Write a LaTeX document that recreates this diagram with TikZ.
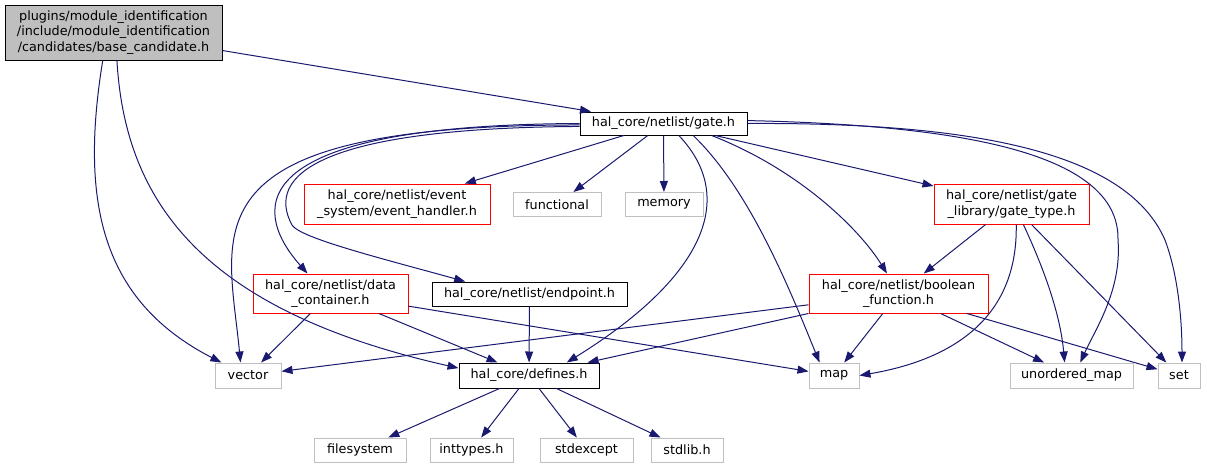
\documentclass[tikz,border=0pt]{standalone}
\usepackage{fontspec}
\setmainfont{DejaVu Sans}
\usetikzlibrary{arrows.meta}

\definecolor{edgeblue}{HTML}{191970}
\definecolor{extgray}{HTML}{BFBFBF}

\tikzset{
    wh/.style 2 args={minimum width=#1*0.75pt, minimum height=#2*0.75pt},
    file/.style={draw, rectangle, inner sep=0pt, align=center, line width=0.75pt,
        font=\fontsize{9.6}{11.5}\selectfont},
    docfile/.style={file, draw=black},
    redfile/.style={file, draw=red},
    sysfile/.style={file, draw=extgray},
    dep/.style={edgeblue, line width=0.75pt, -{Triangle[length=8.25pt,width=6pt]}},
}

\begin{document}
\begin{tikzpicture}[x=0.75pt,y=-0.75pt]
            \useasboundingbox (0,0) rectangle (1207,469);

            % Root file
            \node[docfile, fill=extgray, wh={217}{55}] (root) at (113.5,32.5)
                {plugins/module\_identification\\/include/module\_identification\\/candidates/base\_candidate.h};

            % Second row
            \node[docfile, wh={167}{23}] (gate) at (663.5,123.5) {hal\_core/netlist/gate.h};

            % Third row
            \node[redfile, wh={186}{40}] (event) at (397,204) {hal\_core/netlist/event\\\_system/event\_handler.h};
            \node[sysfile, wh={88}{24}] (functional) at (557,204.5) {functional};
            \node[sysfile, wh={78}{24}] (memory) at (664,204.5) {memory};
            \node[redfile, wh={155}{40}] (gatetype) at (1011.5,204) {hal\_core/netlist/gate\\\_library/gate\_type.h};

            % Fourth row
            \node[redfile, wh={155}{39}] (container) at (330.5,293.5) {hal\_core/netlist/data\\\_container.h};
            \node[docfile, wh={195}{24}] (endpoint) at (529.5,294) {hal\_core/netlist/endpoint.h};
            \node[redfile, wh={179}{39}] (boolean) at (898.5,293.5) {hal\_core/netlist/boolean\\\_function.h};

            % Fifth row
            \node[sysfile, wh={66}{25}] (vector) at (248,375.5) {vector};
            \node[docfile, wh={140}{25}] (defines) at (529,375.5) {hal\_core/defines.h};
            \node[sysfile, wh={50}{25}] (map) at (834,375.5) {map};
            \node[sysfile, wh={123}{25}] (umap) at (1071.5,375.5) {unordered\_map};
            \node[sysfile, wh={42}{25}] (set) at (1179,375.5) {set};

            % Bottom row
            \node[sysfile, wh={92}{24}] (filesystem) at (360,450) {filesystem};
            \node[sysfile, wh={83}{24}] (inttypes) at (471.5,450) {inttypes.h};
            \node[sysfile, wh={93}{24}] (stdexcept) at (586.5,450) {stdexcept};
            \node[sysfile, wh={72}{24}] (stdlib) at (687,450) {stdlib.h};

            % Root includes
            \draw[dep] (root) -- (gate);
            \draw[dep] (root.249) .. controls (80,200) and (100,300) .. (vector.154);
            \draw[dep] (root.277) .. controls (125,200) and (200,310) .. (defines.174);

            % gate.h includes
            \draw[dep] (gate) -- (event);
            \draw[dep] (gate) -- (functional);
            \draw[dep] (gate) -- (memory);
            \draw[dep] (gate) -- (gatetype);
            \draw[dep] (gate.181) .. controls (180,125) and (228,230) .. (vector.120);
            \draw[dep] (gate.180) .. controls (220,125) and (260,220) .. (container.139);
            \draw[dep] (gate.182) .. controls (320,128) and (265,175) .. (292,225)
                .. controls (300,238) and (380,258) .. (endpoint.169);
            \draw[dep] (gate.346) .. controls (800,170) and (860,230) .. (boolean.120);
            \draw[dep] (gate.338) .. controls (750,190) and (790,290) .. (map.138);
            \draw[dep] (gate.322) .. controls (740,200) and (700,280) .. (defines.19);
            \draw[dep] (gate.2) .. controls (950,125) and (1120,150) .. (1118,240)
                .. controls (1122,290) and (1095,330) .. (umap.56);
            \draw[dep] (gate.east) .. controls (1000,122) and (1130,160) .. (1165,240)
                .. controls (1180,280) and (1182,330) .. (set.77);

            % gate_type.h includes
            \draw[dep] (gatetype) -- (boolean);
            \draw[dep] (gatetype.283) .. controls (1018,320) and (950,360) .. (map.east);
            \draw[dep] (gatetype.300) .. controls (1040,260) and (1060,310) .. (umap.118);
            \draw[dep] (gatetype) -- (set);

            % data_container.h and endpoint.h includes
            \draw[dep] (container) -- (vector);
            \draw[dep] (container) -- (defines);
            \draw[dep] (container) -- (map);
            \draw[dep] (endpoint) -- (defines);

            % boolean_function.h includes
            \draw[dep] (boolean) -- (vector);
            \draw[dep] (boolean) -- (defines);
            \draw[dep] (boolean) -- (map);
            \draw[dep] (boolean) -- (umap);
            \draw[dep] (boolean) -- (set);

            % defines.h includes
            \draw[dep] (defines) -- (filesystem);
            \draw[dep] (defines) -- (inttypes);
            \draw[dep] (defines) -- (stdexcept);
            \draw[dep] (defines) -- (stdlib);

\end{tikzpicture}
\end{document}
